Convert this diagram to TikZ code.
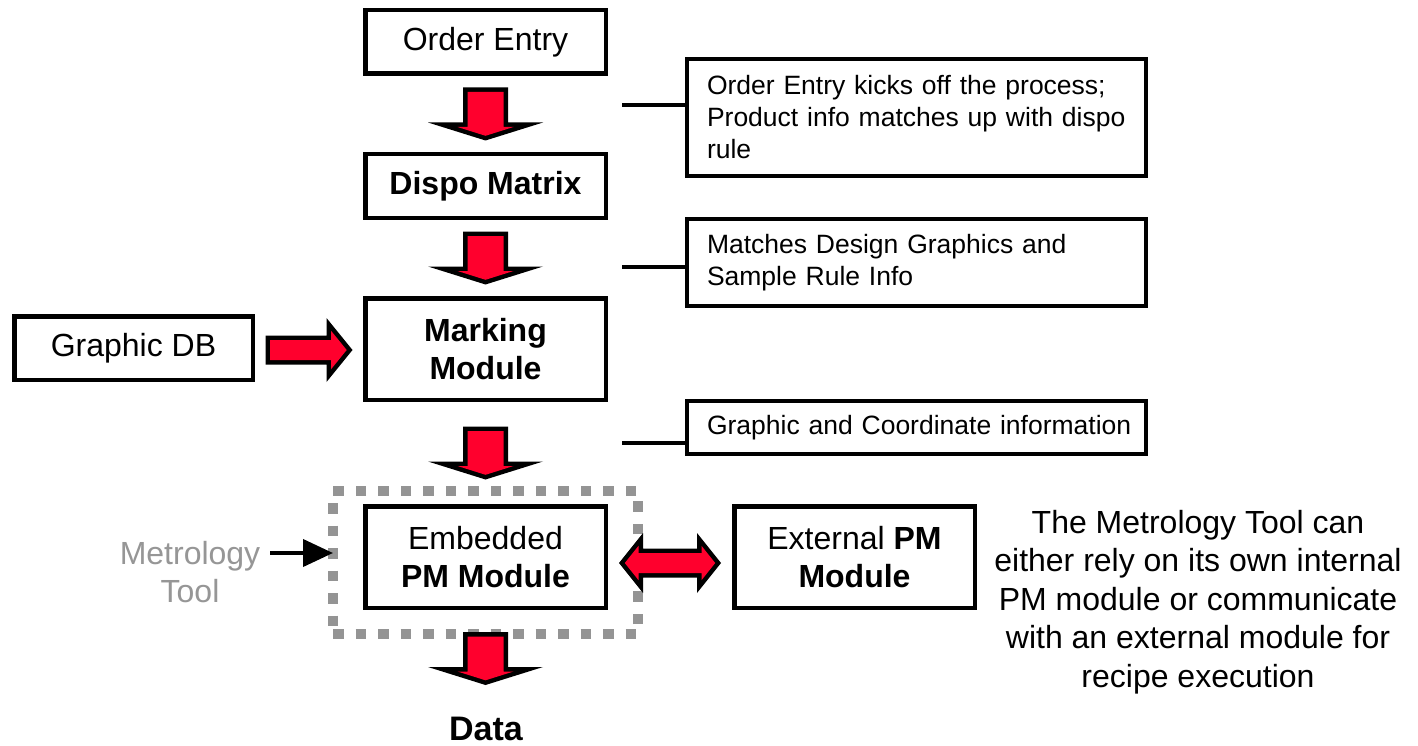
\documentclass[tikz,border=0pt]{standalone}
\usepackage{fontspec}
\setmainfont{Liberation Sans}
\usetikzlibrary{arrows.meta,calc}

\definecolor{arrowred}{RGB}{255,0,45}
\definecolor{framegray}{RGB}{148,148,148}
\definecolor{labelgray}{RGB}{150,150,150}

\tikzset{
  every node/.style={outer sep=0pt},
  mainfont/.style={font=\fontsize{32}{38.4}\selectfont},
  mainbold/.style={font=\fontsize{32}{38.4}\selectfont\bfseries},
  box/.style={draw, line width=4.5pt, minimum width=240.5pt, align=center, inner sep=0pt},
  note/.style={draw, line width=4pt, minimum width=459pt, text width=419pt,
    inner xsep=20pt, inner ysep=0pt, align=left, font=\fontsize{26.5}{32}\selectfont},
  tie/.style={line width=4pt},
  ptr/.style={line width=4pt, -{Triangle[length=30pt,width=27pt]}},
  frame/.style={draw=framegray, line width=10pt, dash pattern=on 10.5pt off 12pt},
  % block arrow pointing down, origin at its centre
  pics/downarrow/.style={code={
    \fill[black] (-22.5,-26.5) -- (22.5,-26.5) -- (22.5,8.5) -- (57.5,8.5)
      -- (0,26.5) -- (-57.5,8.5) -- (-22.5,8.5) -- cycle;
    \fill[arrowred] (-18,-22) -- (18,-22) -- (18,13) -- (28,13) -- (0,21.8)
      -- (-28,13) -- (-18,13) -- cycle;
  }},
  % block arrow pointing right
  pics/rightarrow/.style={code={
    \fill[black] (-43.5,-14.5) -- (17.5,-14.5) -- (17.5,-32) -- (43.5,0)
      -- (17.5,32) -- (17.5,14.5) -- (-43.5,14.5) -- cycle;
    \fill[arrowred] (-39,-10) -- (22,-10) -- (22,-19.3) -- (37.7,0)
      -- (22,19.3) -- (22,10) -- (-39,10) -- cycle;
  }},
  % two-headed block arrow
  pics/botharrow/.style={code={
    \fill[black] (-51,0) -- (-27,-30) -- (-27,-14.5) -- (27,-14.5) -- (27,-30)
      -- (51,0) -- (27,30) -- (27,14.5) -- (-27,14.5) -- (-27,30) -- cycle;
    \fill[arrowred] (-45.2,0) -- (-31.5,-17.2) -- (-31.5,-10) -- (31.5,-10)
      -- (31.5,-17.2) -- (45.2,0) -- (31.5,17.2) -- (31.5,10) -- (-31.5,10)
      -- (-31.5,17.2) -- cycle;
  }},
}

\begin{document}
\begin{tikzpicture}[x=1pt,y=-1pt]
\useasboundingbox (0,0) rectangle (1418,746);
\fill[white] (0,0) rectangle (1418,746);

% main process column
\node[box, mainfont, minimum height=63.5pt] (oe) at (485.5,42) {Order Entry};
\node[box, mainbold, minimum height=63.5pt] (dm) at (485.5,186) {Dispo Matrix};
\node[box, mainbold, minimum height=101.5pt] (mm) at (485.5,349) {Marking\\Module};
\node[frame, minimum width=305pt, minimum height=143pt] (tool) at (485.5,562.5) {};
\node[box, mainfont, minimum height=101.5pt] (em) at (485.5,557) {Embedded\\\textbf{PM Module}};
\node[font=\fontsize{34}{40}\selectfont\bfseries, inner sep=0pt] (data) at (486,728.5) {Data};

% side boxes
\node[box, mainfont, minimum width=238.5pt, minimum height=63.5pt] (gdb) at (133.5,348) {Graphic DB};
\node[box, mainfont, minimum height=101.5pt] (ext) at (854.5,557) {External \textbf{PM}\\\textbf{Module}};

% flow arrows
\path ($(oe.south)!0.5!(dm.north)$) pic {downarrow};
\path ($(dm.south)!0.5!(mm.north)$) pic {downarrow};
\path ($(mm.south)!0.5!(em.north)$) pic {downarrow};
\path ($(em.south)+(0,50.75)$) pic {downarrow};
\path ($(gdb.east)!0.5!(mm.west)+(0,1.5)$) pic {rightarrow};
\path ($(em.east)!0.5!(ext.west)+(0,6)$) pic {botharrow};

% annotations
\node[note, minimum height=117pt] (n1) at (916.5,117.5)
  {\mbox{Order Entry kicks off the process;}\\\mbox{Product info matches up with dispo}\\rule};
\node[note, minimum height=87pt] (n2) at (916.5,262.5)
  {\mbox{Matches Design Graphics and}\\\mbox{Sample Rule Info}};
\node[note, minimum height=53pt] (n3) at (916.5,427.5)
  {\mbox{Graphic and Coordinate information}};
\coordinate (t1) at (622,105);
\coordinate (t2) at (622,267);
\coordinate (t3) at (622,443);
\draw[tie] (t1) -- (t1 -| n1.west);
\draw[tie] (t2) -- (t2 -| n2.west);
\draw[tie] (t3) -- (t3 -| n3.west);

% metrology tool label
\node[mainfont, text=labelgray, align=center] (mt) at (190,572) {Metrology\\Tool};
\coordinate (mtfrom) at (270,553);
\draw[ptr] (mtfrom) -- (mtfrom -| tool.west);

% explanation
\node[mainfont, align=center] (desc) at (1198,602)
  {The Metrology Tool can\\either rely on its own internal\\PM module or communicate\\with an external module for\\recipe execution};
\end{tikzpicture}
\end{document}
